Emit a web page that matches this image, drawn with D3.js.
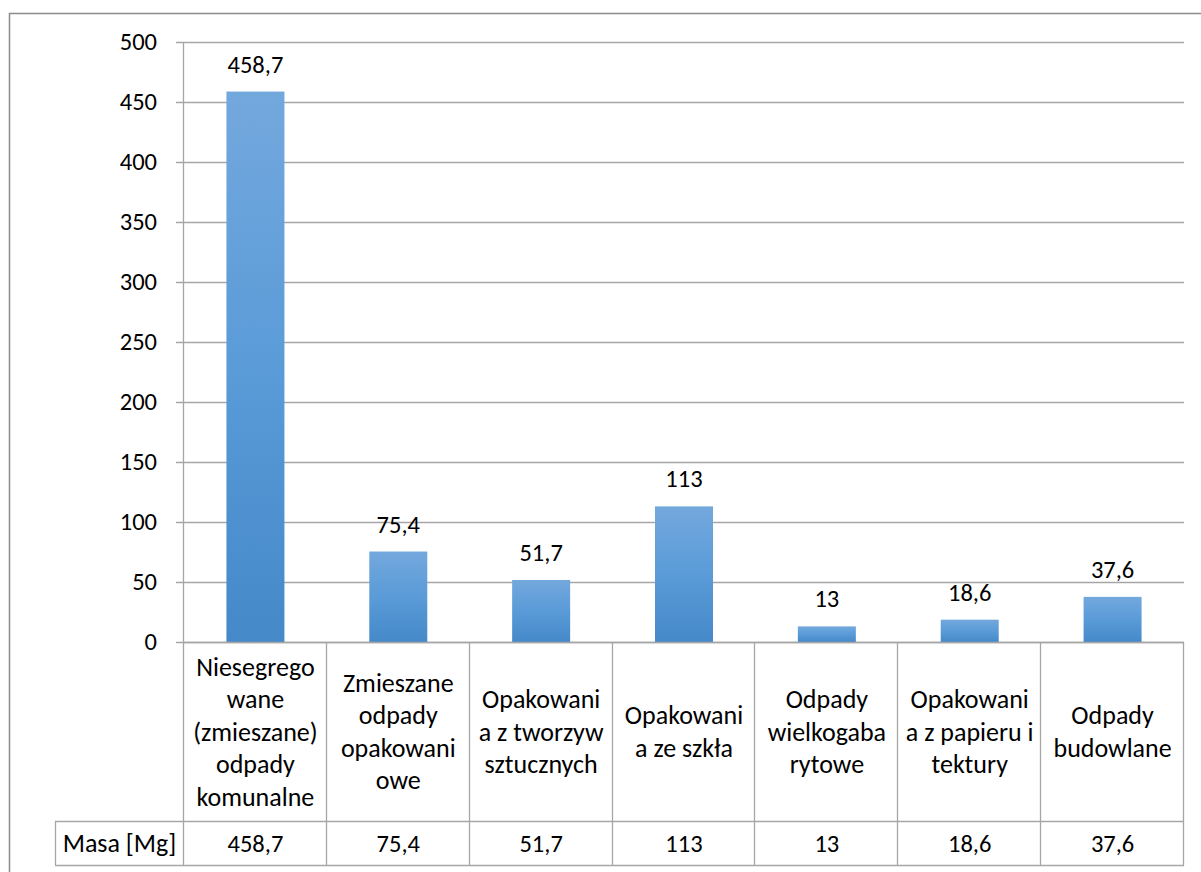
<!DOCTYPE html>
<html><head><meta charset="utf-8">
<script src="https://cdn.jsdelivr.net/npm/d3@7"></script>
<style>html,body{margin:0;padding:0;background:#fff;}svg{display:block;}</style>
</head><body>
<svg id="chart" width="1201" height="872"></svg>
<script>
const categories = [
  ["Niesegrego","wane","(zmieszane)","odpady","komunalne"],
  ["Zmieszane","odpady","opakowani","owe"],
  ["Opakowani","a z tworzyw","sztucznych"],
  ["Opakowani","a ze szkła"],
  ["Odpady","wielkogaba","rytowe"],
  ["Opakowani","a z papieru i","tektury"],
  ["Odpady","budowlane"]
];
const values = [458.7, 75.4, 51.7, 113, 13, 18.6, 37.6];
const valueLabels = ["458,7","75,4","51,7","113","13","18,6","37,6"];
const yTicks = [0,50,100,150,200,250,300,350,400,450,500];
const seriesName = "Masa [Mg]";

(function(){
const font = "Calibri, Carlito, Lato, sans-serif";
const fs = 24.5;
const fsText = 26;
const svg = d3.select("#chart");

const defs = svg.append("defs");
const grad = defs.append("linearGradient").attr("id","barGrad").attr("x1",0).attr("y1",0).attr("x2",0).attr("y2",1);
grad.append("stop").attr("offset","0%").attr("stop-color","#73a8dd");
grad.append("stop").attr("offset","50%").attr("stop-color","#5a9bd8");
grad.append("stop").attr("offset","100%").attr("stop-color","#4589c9");

// outer border
svg.append("rect").attr("x",9.5).attr("y",13.5).attr("width",1210).attr("height",880)
  .attr("fill","none").attr("stroke","#8c8c8c").attr("stroke-width",1.5);

const pLeft = 184, pRight = 1184, pTop = 42, pBottom = 642;
const x = d3.scaleBand().domain(d3.range(values.length)).range([pLeft,pRight]).paddingInner(0).paddingOuter(0);
const y = d3.scaleLinear().domain([0,500]).range([pBottom,pTop]);
const barW = 58;

// gridlines
svg.append("g").selectAll("line").data(yTicks).join("line")
  .attr("x1",pLeft-8).attr("x2",pRight)
  .attr("y1",d=>Math.round(y(d))+0.5).attr("y2",d=>Math.round(y(d))+0.5)
  .attr("stroke","#a6a6a6").attr("stroke-width",1.3);

// y axis via d3
const yAxis = svg.append("g").attr("transform",`translate(${pLeft-8},0)`)
  .call(d3.axisLeft(y).tickValues(yTicks).tickSize(0).tickPadding(19));
yAxis.select(".domain").remove();
yAxis.selectAll("text").attr("font-family",font).attr("font-size",fs).attr("fill","#000");

// y axis line
svg.append("line").attr("x1",pLeft-0.5).attr("x2",pLeft-0.5).attr("y1",pTop).attr("y2",865)
  .attr("stroke","#a6a6a6").attr("stroke-width",1.3);

// bars
svg.append("g").selectAll("rect").data(values).join("rect")
  .attr("x",(d,i)=>x(i)+x.bandwidth()/2-barW/2)
  .attr("width",barW)
  .attr("y",d=>y(d))
  .attr("height",d=>pBottom-y(d))
  .attr("fill","url(#barGrad)");

// value labels
svg.append("g").selectAll("text").data(values).join("text")
  .attr("x",(d,i)=>x(i)+x.bandwidth()/2)
  .attr("y",d=>y(d)-19)
  .attr("text-anchor","middle")
  .attr("font-family",font).attr("font-size",fs).attr("fill","#000")
  .text((d,i)=>valueLabels[i]);

// table
const rowTop = 642, rowMid = 821, rowBot = 865, tableLeft = 55;
const tg = svg.append("g").attr("stroke","#a6a6a6").attr("stroke-width",1.3);
tg.append("line").attr("x1",pLeft).attr("x2",pRight).attr("y1",rowTop+0.5).attr("y2",rowTop+0.5);
tg.append("line").attr("x1",tableLeft).attr("x2",pRight).attr("y1",rowMid+0.5).attr("y2",rowMid+0.5);
tg.append("line").attr("x1",tableLeft).attr("x2",pRight).attr("y1",rowBot+0.5).attr("y2",rowBot+0.5);
tg.append("line").attr("x1",tableLeft+0.5).attr("x2",tableLeft+0.5).attr("y1",rowMid).attr("y2",rowBot);
tg.selectAll("line.v").data(d3.range(values.length)).join("line").attr("class","v")
  .attr("x1",i=>Math.round(x(i)+x.bandwidth())-0.5).attr("x2",i=>Math.round(x(i)+x.bandwidth())-0.5)
  .attr("y1",rowTop).attr("y2",rowBot);

// category labels
const lh = 32.5;
const cg = svg.append("g");
categories.forEach((lines,i)=>{
  const cx = x(i)+x.bandwidth()/2;
  const cy = (rowTop+rowMid)/2;
  const start = cy - (lines.length-1)*lh/2;
  const t = cg.append("text").attr("text-anchor","middle").attr("font-family",font).attr("font-size",fsText).attr("fill","#000");
  lines.forEach((l,j)=>{
    t.append("tspan").attr("x",cx).attr("y",start+j*lh).attr("dy","0.35em").text(l);
  });
});

// row values
svg.append("g").selectAll("text").data(values).join("text")
  .attr("x",(d,i)=>x(i)+x.bandwidth()/2)
  .attr("y",(rowMid+rowBot)/2).attr("dy","0.35em")
  .attr("text-anchor","middle").attr("font-family",font).attr("font-size",fs).attr("fill","#000")
  .text((d,i)=>valueLabels[i]);

svg.append("text").attr("x",(tableLeft+pLeft)/2).attr("y",(rowMid+rowBot)/2).attr("dy","0.35em")
  .attr("text-anchor","middle").attr("font-family",font).attr("font-size",fsText).attr("fill","#000")
  .text(seriesName);
})();
</script>
</body></html>
